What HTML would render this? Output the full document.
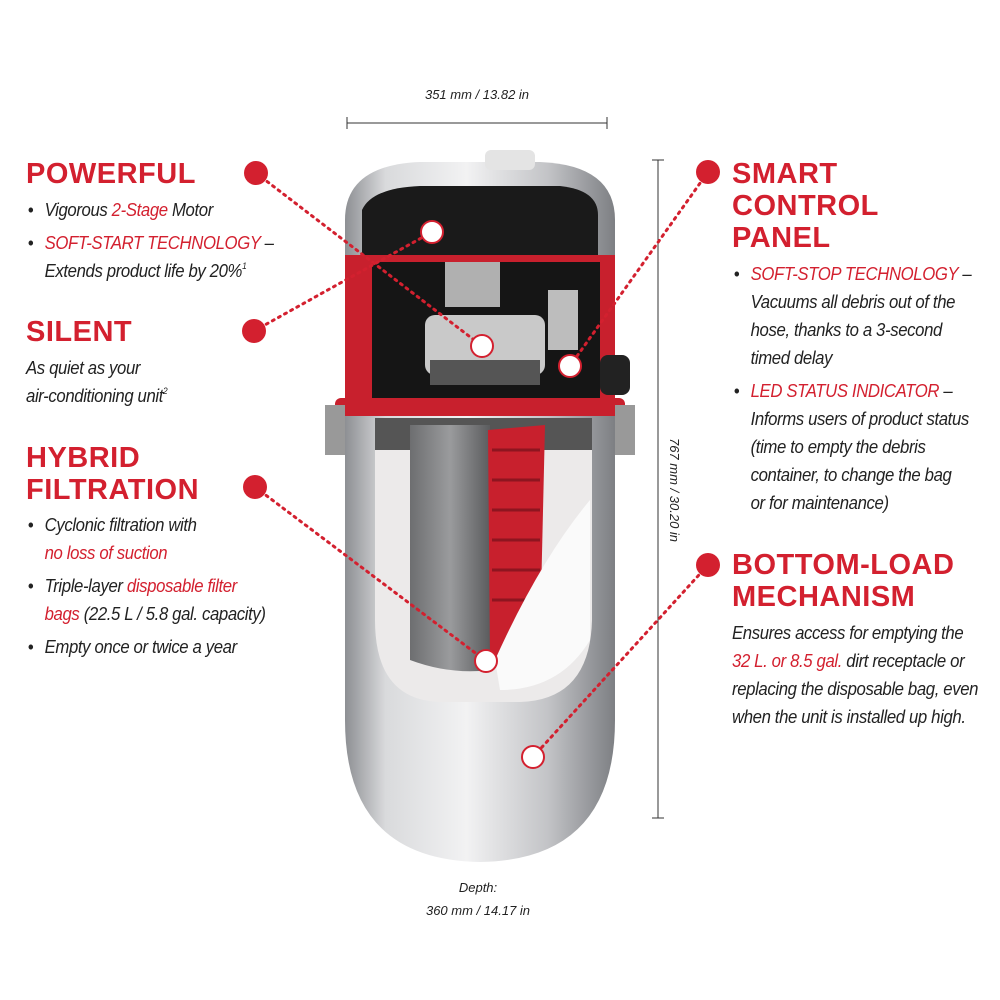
<!DOCTYPE html>
<html><head><meta charset="utf-8"><style>
body{margin:0;width:1000px;height:1000px;background:#fff;position:relative;overflow:hidden;font-family:"Liberation Sans",sans-serif;}
.h{position:absolute;color:#d3202f;font-family:"Liberation Sans",sans-serif;font-weight:bold;font-size:29px;line-height:32px;letter-spacing:0.5px;}
.t{position:absolute;font-style:italic;font-size:18px;line-height:28px;color:#222;letter-spacing:-0.4px;transform:scaleX(0.93);transform-origin:0 0;white-space:nowrap}
.r{color:#d3202f}
.t ul{margin:0;padding:0;list-style:none}
.t li{position:relative;padding-left:20px;margin-bottom:5px}
.t li:before{content:"•";position:absolute;left:2px;font-style:normal}
sup{font-size:9px;line-height:0;vertical-align:8px}
.s{position:absolute;font-style:italic;font-size:13px;color:#222;text-align:center}
</style></head><body>
<svg width="1000" height="1000" style="position:absolute;left:0;top:0">
<defs>
<linearGradient id="sil" x1="0" x2="1"><stop offset="0" stop-color="#8d8f93"/><stop offset=".15" stop-color="#d9dadc"/><stop offset=".45" stop-color="#f2f2f3"/><stop offset=".75" stop-color="#c3c4c7"/><stop offset="1" stop-color="#7d7f83"/></linearGradient>
<linearGradient id="bag" x1="0" x2="1"><stop offset="0" stop-color="#6d6e70"/><stop offset=".5" stop-color="#9a9b9d"/><stop offset="1" stop-color="#5b5c5e"/></linearGradient>
</defs>
<line x1="347" y1="123" x2="607" y2="123" stroke="#333" stroke-width="1"/>
<line x1="347" y1="117" x2="347" y2="129" stroke="#333"/><line x1="607" y1="117" x2="607" y2="129" stroke="#333"/>
<line x1="658" y1="160" x2="658" y2="818" stroke="#333"/>
<line x1="652" y1="160" x2="664" y2="160" stroke="#333"/><line x1="652" y1="818" x2="664" y2="818" stroke="#333"/>
<path d="M345 220 Q345 165 420 162 L540 162 Q615 165 615 220 L615 720 Q615 860 480 862 Q345 860 345 720 Z" fill="url(#sil)"/>
<rect x="485" y="150" width="50" height="20" rx="6" fill="#e4e4e4"/>
<path d="M362 262 L362 210 Q372 188 420 186 L560 186 Q598 190 598 215 L598 262 Z" fill="#1a1a1a"/>
<rect x="345" y="255" width="270" height="145" fill="#c8202d"/>
<rect x="372" y="262" width="228" height="138" fill="#151515"/>
<rect x="445" y="262" width="55" height="45" fill="#b0b0b0"/>
<rect x="425" y="315" width="120" height="60" rx="10" fill="#c9c9c9"/>
<rect x="430" y="360" width="110" height="25" fill="#555"/>
<rect x="548" y="290" width="30" height="60" fill="#bdbdbd"/>
<rect x="600" y="355" width="30" height="40" rx="8" fill="#222"/>
<rect x="335" y="398" width="290" height="18" rx="6" fill="#c8202d"/>
<rect x="325" y="405" width="20" height="50" fill="#999"/><rect x="615" y="405" width="20" height="50" fill="#999"/>
<path d="M375 418 L592 418 L592 620 Q590 700 520 702 L440 702 Q375 700 375 620 Z" fill="#eceaea"/>
<path d="M375 418 L592 418 L592 450 L375 450 Z" fill="#555"/>
<path d="M410 425 L490 425 L490 670 Q450 675 410 660 Z" fill="url(#bag)"/>
<path d="M488 430 L545 425 L540 640 L490 660 Z" fill="#c8202d"/>
<g stroke="#8e1520" stroke-width="3">
<line x1="492" y1="450" x2="540" y2="450"/><line x1="492" y1="480" x2="540" y2="480"/><line x1="492" y1="510" x2="540" y2="510"/><line x1="492" y1="540" x2="540" y2="540"/><line x1="492" y1="570" x2="540" y2="570"/><line x1="492" y1="600" x2="540" y2="600"/>
</g>
<path d="M495 660 Q540 560 590 500 L590 640 Q560 690 500 690 Z" fill="#fafafa"/>
<g stroke="#d3202f" stroke-width="3" stroke-dasharray="2 5" stroke-linecap="round">
<line x1="256" y1="173" x2="482" y2="346"/>
<line x1="254" y1="331" x2="432" y2="232"/>
<line x1="255" y1="487" x2="486" y2="661"/>
<line x1="708" y1="172" x2="570" y2="366"/>
<line x1="708" y1="565" x2="533" y2="757"/>
</g>
<g fill="#d3202f">
<circle cx="256" cy="173" r="12"/><circle cx="254" cy="331" r="12"/><circle cx="255" cy="487" r="12"/>
<circle cx="708" cy="172" r="12"/><circle cx="708" cy="565" r="12"/>
</g>
<g fill="#fff" stroke="#d3202f" stroke-width="2">
<circle cx="432" cy="232" r="11"/><circle cx="482" cy="346" r="11"/><circle cx="570" cy="366" r="11"/><circle cx="486" cy="661" r="11"/><circle cx="533" cy="757" r="11"/>
</g>
<text x="670" y="490" transform="rotate(90 670 490)" text-anchor="middle" font-family="Liberation Sans, sans-serif" font-style="italic" font-size="13" fill="#222">767 mm / 30.20 in</text>
</svg>
<div class="s" style="left:377px;top:87px;width:200px">351 mm / 13.82 in</div>
<div class="s" style="left:378px;top:876px;width:200px;line-height:23px">Depth:<br>360 mm / 14.17 in</div>

<div class="h" style="left:26px;top:158px">POWERFUL</div>
<div class="t" style="left:26px;top:196px"><ul><li>Vigorous <span class="r">2-Stage</span> Motor</li><li><span class="r">SOFT-START TECHNOLOGY</span> –<br>Extends product life by 20%<sup>1</sup></li></ul></div>
<div class="h" style="left:26px;top:316px">SILENT</div>
<div class="t" style="left:26px;top:354px">As quiet as your<br>air-conditioning unit<sup>2</sup></div>
<div class="h" style="left:26px;top:442px">HYBRID<br>FILTRATION</div>
<div class="t" style="left:26px;top:511px"><ul><li>Cyclonic filtration with<br><span class="r">no loss of suction</span></li><li>Triple-layer <span class="r">disposable filter<br>bags</span> (22.5 L / 5.8 gal. capacity)</li><li>Empty once or twice a year</li></ul></div>

<div class="h" style="left:732px;top:158px">SMART<br>CONTROL<br>PANEL</div>
<div class="t" style="left:732px;top:260px"><ul><li><span class="r">SOFT-STOP TECHNOLOGY</span> –<br>Vacuums all debris out of the<br>hose, thanks to a 3-second<br>timed delay</li><li><span class="r">LED STATUS INDICATOR</span> –<br>Informs users of product status<br>(time to empty the debris<br>container, to change the bag<br>or for maintenance)</li></ul></div>
<div class="h" style="left:732px;top:549px">BOTTOM-LOAD<br>MECHANISM</div>
<div class="t" style="left:732px;top:619px">Ensures access for emptying the<br><span class="r">32 L. or 8.5 gal.</span> dirt receptacle or<br>replacing the disposable bag, even<br>when the unit is installed up high.</div>
</body></html>
